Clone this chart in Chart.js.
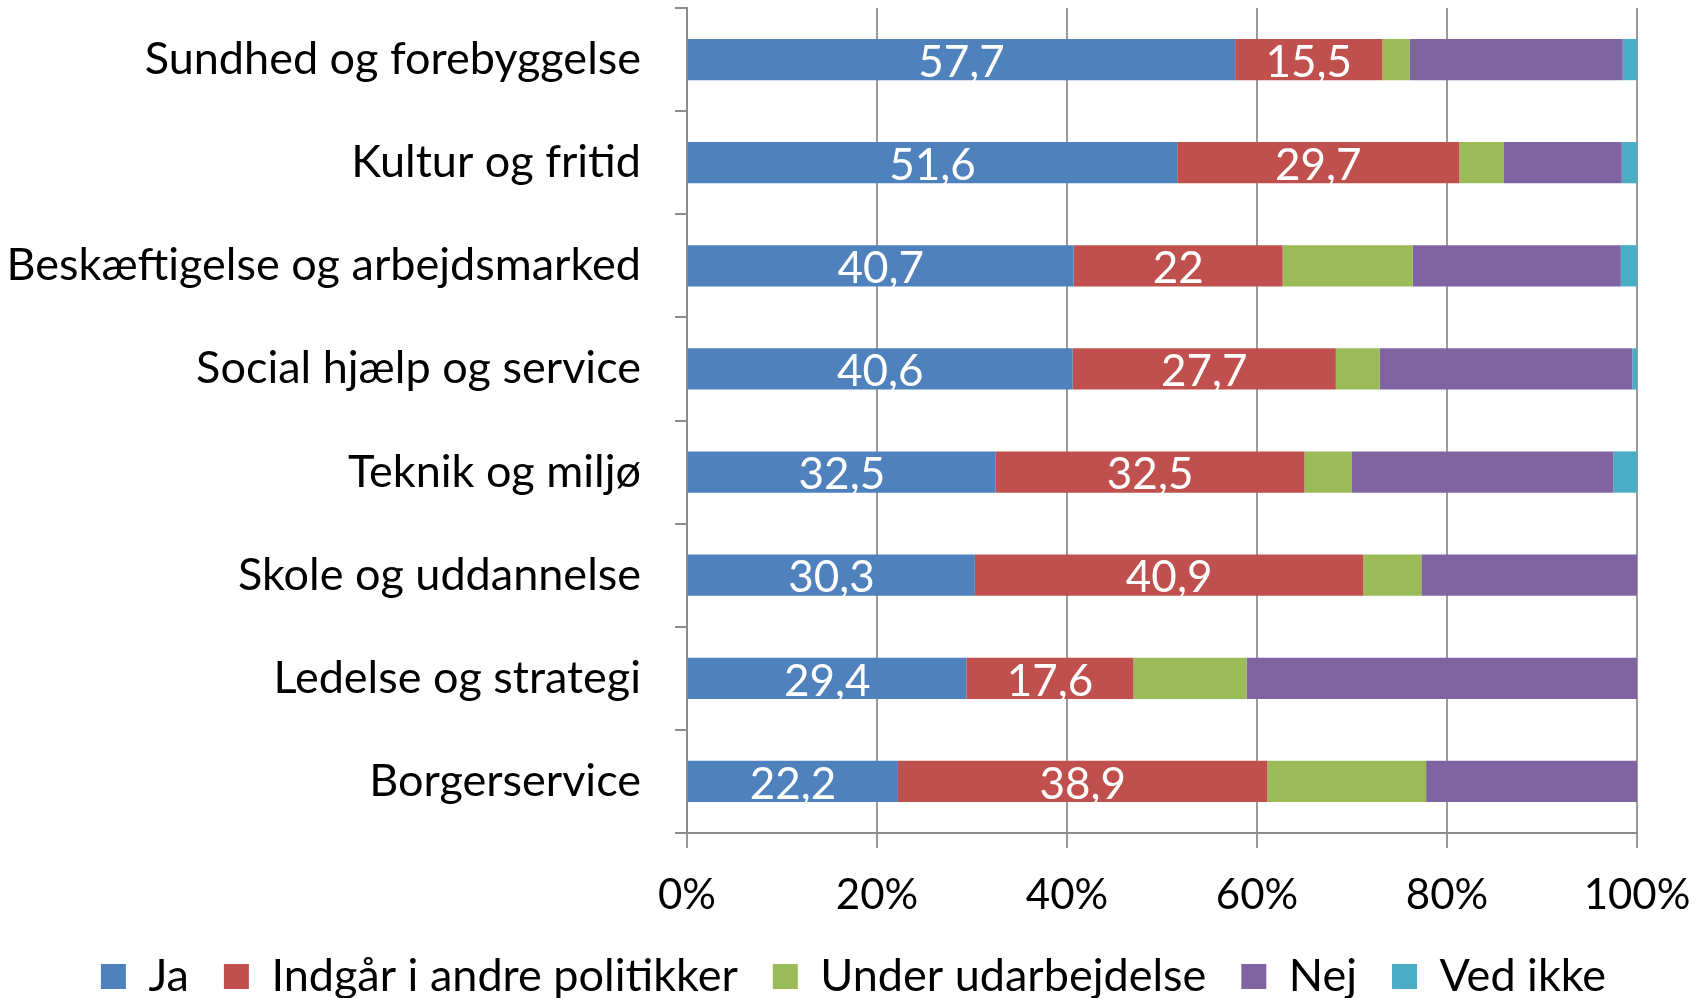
<!DOCTYPE html>
<html>
<head>
<meta charset="utf-8">
<script src="https://cdn.jsdelivr.net/npm/chart.js@4"></script>
<style>
  html, body { margin: 0; padding: 0; background: #fff; }
  #wrap { width: 1707px; height: 998px; }
</style>
</head>
<body>
<div id="wrap"><canvas id="myChart" width="1707" height="998"></canvas></div>
<script>
// categories and series
const categories = ['Sundhed og forebyggelse', 'Kultur og fritid', 'Beskæftigelse og arbejdsmarked',
    'Social hjælp og service', 'Teknik og miljø', 'Skole og uddannelse', 'Ledelse og strategi', 'Borgerservice'];
const ja = [57.7, 51.6, 40.7, 40.6, 32.5, 30.3, 29.4, 22.2];
const indgaar = [15.5, 29.7, 22, 27.7, 32.5, 40.9, 17.6, 38.9];
const underUdarb = [2.9, 4.7, 13.7, 4.6, 5.0, 6.1, 11.9, 16.7];
const nej = [22.4, 12.4, 21.9, 26.6, 27.5, 22.7, 41.1, 22.2];
const vedIkke = [1.5, 1.6, 1.7, 0.5, 2.5, 0, 0, 0];
const xTicks = ['0%', '20%', '40%', '60%', '80%', '100%'];

const FONT = 'Lato';

// white value labels on the first two series
const barLabels = {
    id: 'barLabels',
    afterDatasetsDraw(chart) {
        const ctx = chart.ctx;
        ctx.save();
        ctx.fillStyle = '#fff';
        ctx.font = '44px ' + FONT;
        ctx.textAlign = 'center';
        ctx.textBaseline = 'middle';
        [0, 1].forEach(di => {
            const meta = chart.getDatasetMeta(di);
            meta.data.forEach((bar, i) => {
                const v = chart.data.datasets[di].data[i];
                const txt = String(v).replace('.', ',');
                ctx.fillText(txt, (bar.x + bar.base) / 2, bar.y + 3);
            });
        });
        ctx.restore();
    }
};

const ctx = document.getElementById('myChart').getContext('2d');
const myChart = new Chart(ctx, {
    type: 'bar',
    data: {
        labels: categories,
        datasets: [
            { label: 'Ja', data: ja, backgroundColor: '#4F81BD' },
            { label: 'Indgår i andre politikker', data: indgaar, backgroundColor: '#C0504D' },
            { label: 'Under udarbejdelse', data: underUdarb, backgroundColor: '#9BBB59' },
            { label: 'Nej', data: nej, backgroundColor: '#8064A2' },
            { label: 'Ved ikke', data: vedIkke, backgroundColor: '#4BACC6' }
        ]
    },
    options: {
        indexAxis: 'y',
        responsive: false,
        animation: false,
        datasets: { bar: { categoryPercentage: 1, barPercentage: 0.4, borderWidth: 0 } },
        layout: { padding: { left: 0, right: 0, top: 8, bottom: 0 } },
        plugins: {
            tooltip: { enabled: false },
            legend: {
                position: 'bottom',
                maxHeight: 79,
                labels: {
                    color: '#000',
                    font: { family: FONT, size: 45 },
                    boxWidth: 25,
                    boxHeight: 25,
                    padding: 35
                }
            }
        },
        scales: {
            x: {
                stacked: true,
                min: 0,
                max: 100,
                ticks: {
                    stepSize: 20,
                    color: '#000',
                    font: { family: FONT, size: 42 },
                    padding: 22,
                    callback: (v, i) => xTicks[i]
                },
                grid: { color: '#9a9a9a', lineWidth: 2, tickLength: 15 },
                border: { color: '#8c8c8c', width: 2 },
                afterFit: scale => {
                    scale.height = 86;
                    scale.paddingLeft = 0;
                    scale.paddingRight = 70;
                }
            },
            y: {
                stacked: true,
                ticks: {
                    color: '#000',
                    font: { family: FONT, size: 45 },
                    padding: 34
                },
                grid: { offset: true, drawOnChartArea: false, color: '#8c8c8c', lineWidth: 2, tickLength: 12 },
                border: { color: '#8c8c8c', width: 2 },
                afterFit: scale => {
                    scale.width = 687;
                    scale.paddingTop = 0;
                    scale.paddingBottom = 0;
                }
            }
        }
    },
    plugins: [barLabels]
});
</script>
</body>
</html>
